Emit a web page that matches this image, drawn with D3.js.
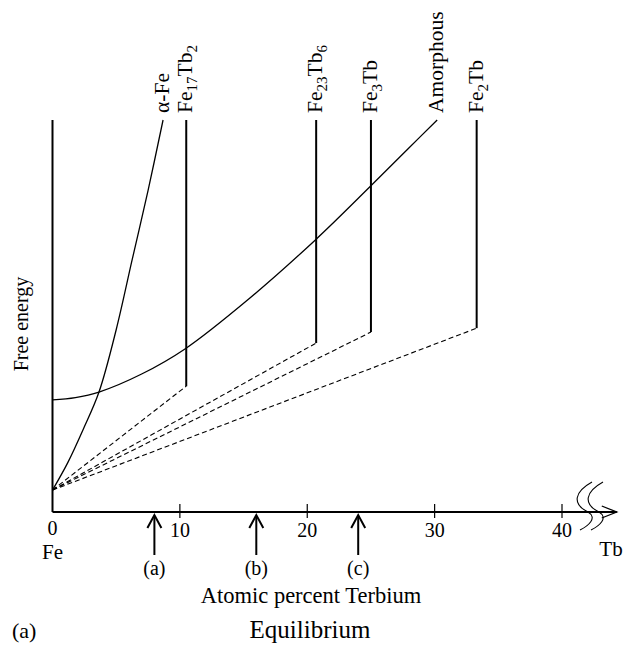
<!DOCTYPE html>
<html>
<head>
<meta charset="utf-8">
<script src="https://cdn.jsdelivr.net/npm/d3@7"></script>
<style>
  html, body { margin: 0; padding: 0; background: #fff; }
  svg { display: block; }
  text { font-family: "Liberation Serif", "Times New Roman", serif; fill: #000; }
</style>
</head>
<body>
<svg id="chart" width="635" height="645"></svg>
<script>
// Composition axis: atomic percent terbium
const xTicks = [10, 20, 30, 40];
const xTickLabels = ["10", "20", "30", "40"];
const xAxisEnd = 44.3;

// Free-energy curves of the solution phases (arbitrary units)
const alphaFeX = [0, 1.2, 2.4, 3.65, 5, 6.25, 7.5, 8.68];
const alphaFeY = [5.6, 12.6, 21, 30.6, 46.5, 64.3, 82, 100];
const amorphousX = [0, 1.8, 3.65, 7, 10.4, 15.5, 20.7, 24.9, 27.8, 30.2];
const amorphousY = [28.6, 29.2, 30.6, 35.2, 41.6, 54.6, 69.6, 82.9, 92.3, 100];

// Intermetallic compounds: composition and free energy of formation
const compoundNames = ["Fe17Tb2", "Fe23Tb6", "Fe3Tb", "Fe2Tb"];
const compoundX = [10.5, 20.7, 25, 33.3];
const compoundY = [32.1, 43.1, 45.9, 46.9];
const compoundTop = 100;

// Pure Fe reference energy where the tie lines start
const feEnergy = 5.6;

// Marked alloy compositions
const markerX = [8, 16, 24];
const markerLabels = ["(a)", "(b)", "(c)"];

const svg = d3.select("#chart");
const x = d3.scaleLinear().domain([0, 40]).range([52.5, 562]);
const y = d3.scaleLinear().domain([0, 100]).range([512, 120]);

const line = d3.line().x(d => x(d[0])).y(d => y(d[1]));
const smooth = d3.line().x(d => x(d[0])).y(d => y(d[1])).curve(d3.curveCatmullRom.alpha(0.5));

// Axes
const axisY0 = y(0);
svg.append("line").attr("x1", x(0)).attr("x2", x(0)).attr("y1", y(100)).attr("y2", axisY0)
  .attr("stroke", "#000").attr("stroke-width", 2);
svg.append("line").attr("x1", x(0)).attr("x2", x(xAxisEnd)).attr("y1", axisY0).attr("y2", axisY0)
  .attr("stroke", "#000").attr("stroke-width", 2);
// axis arrow head
svg.append("path")
  .attr("d", `M${x(xAxisEnd) - 15},${axisY0 - 6} L${x(xAxisEnd)},${axisY0} L${x(xAxisEnd) - 15},${axisY0 + 6}`)
  .attr("fill", "none").attr("stroke", "#000").attr("stroke-width", 1.3);

// ticks and labels
xTicks.forEach((t, i) => {
  svg.append("line").attr("x1", x(t)).attr("x2", x(t)).attr("y1", axisY0 - 8).attr("y2", axisY0 + 6)
    .attr("stroke", "#000").attr("stroke-width", 1.2);
  svg.append("text").attr("x", x(t)).attr("y", 537).attr("text-anchor", "middle")
    .attr("font-size", 20).text(xTickLabels[i]);
});
svg.append("text").attr("x", x(0)).attr("y", 535).attr("text-anchor", "middle")
  .attr("font-size", 20).text("0");

// axis break marks
const bx = x(40) + 16;
[0, 11].forEach(off => {
  const p = d3.path();
  p.moveTo(bx + 14 + off, axisY0 - 30);
  p.bezierCurveTo(bx - 4 + off, axisY0 - 20, bx - 6 + off, axisY0 - 8, bx + 10 + off, axisY0);
  p.bezierCurveTo(bx + 20 + off, axisY0 + 6, bx + 10 + off, axisY0 + 14, bx + 2 + off, axisY0 + 18);
  svg.append("path").attr("d", p.toString()).attr("fill", "none").attr("stroke", "#000").attr("stroke-width", 1.1);
});

// End labels
svg.append("text").attr("x", x(0)).attr("y", 559).attr("text-anchor", "middle").attr("font-size", 21).text("Fe");
svg.append("text").attr("x", 611).attr("y", 556).attr("text-anchor", "middle").attr("font-size", 21).text("Tb");

// Composition markers
markerX.forEach((m, i) => {
  const cx = x(m);
  svg.append("line").attr("x1", cx).attr("x2", cx).attr("y1", 516).attr("y2", 555)
    .attr("stroke", "#000").attr("stroke-width", 2);
  svg.append("path").attr("d", `M${cx - 7},${528} L${cx},${515} L${cx + 7},${528}`)
    .attr("fill", "none").attr("stroke", "#000").attr("stroke-width", 2);
  svg.append("text").attr("x", cx).attr("y", 575).attr("text-anchor", "middle")
    .attr("font-size", 20).text(markerLabels[i]);
});

// Tie lines from pure Fe to each compound
compoundX.forEach((cx, i) => {
  svg.append("path").attr("d", line([[0, feEnergy], [cx, compoundY[i]]]))
    .attr("fill", "none").attr("stroke", "#000").attr("stroke-width", 1.1)
    .attr("stroke-dasharray", "5,3");
});

// Compound lines
compoundX.forEach((cx, i) => {
  svg.append("path").attr("d", line([[cx, compoundY[i]], [cx, compoundTop]]))
    .attr("fill", "none").attr("stroke", "#000").attr("stroke-width", 2);
});

// Solution curves
svg.append("path").attr("d", smooth(alphaFeX.map((v, i) => [v, alphaFeY[i]])))
  .attr("fill", "none").attr("stroke", "#000").attr("stroke-width", 1.3);
svg.append("path").attr("d", smooth(amorphousX.map((v, i) => [v, amorphousY[i]])))
  .attr("fill", "none").attr("stroke", "#000").attr("stroke-width", 1.3);

// Phase labels, written upward above each line; subscripts dropped by 5px
function phaseLabel(px, parts) {
  const t = svg.append("text")
    .attr("transform", `translate(${px + 6},113) rotate(-90)`)
    .attr("font-size", 21.5);
  let shifted = 0;
  parts.forEach(([s, sub]) => {
    const target = sub ? 5 : 0;
    const ts = t.append("tspan").text(s);
    if (target !== shifted) ts.attr("dy", target - shifted);
    if (sub) ts.attr("font-size", 15);
    shifted = target;
  });
}
phaseLabel(x(alphaFeX[alphaFeX.length - 1]), [["\u03b1-Fe"]]);
phaseLabel(x(amorphousX[amorphousX.length - 1]), [["Amorphous"]]);
const compoundParts = [
  [["Fe"], ["17", true], ["Tb"], ["2", true]],
  [["Fe"], ["23", true], ["Tb"], ["6", true]],
  [["Fe"], ["3", true], ["Tb"]],
  [["Fe"], ["2", true], ["Tb"]]
];
compoundX.forEach((cx, i) => phaseLabel(x(cx), compoundParts[i]));

// Axis titles
svg.append("text").attr("transform", "translate(28,324) rotate(-90)").attr("text-anchor", "middle")
  .attr("font-size", 20).text("Free energy");
svg.append("text").attr("x", 311).attr("y", 603).attr("text-anchor", "middle")
  .attr("font-size", 22.5).text("Atomic percent Terbium");
svg.append("text").attr("x", 310).attr("y", 638).attr("text-anchor", "middle")
  .attr("font-size", 25).text("Equilibrium");
svg.append("text").attr("x", 12).attr("y", 638).attr("font-size", 22).text("(a)");
</script>
</body>
</html>
